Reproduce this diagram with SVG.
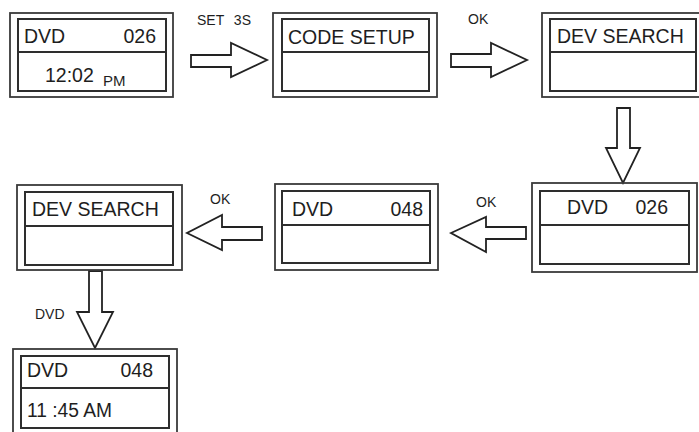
<svg xmlns="http://www.w3.org/2000/svg" width="699" height="432" viewBox="0 0 699 432">
<style>
.o{fill:none;stroke:#3a3a3a;stroke-width:1.8}
.i{fill:none;stroke:#2e2e2e;stroke-width:2}
.d{stroke:#2e2e2e;stroke-width:1.8}
.t{font-family:"Liberation Sans",Arial,sans-serif;font-size:19.5px;fill:#1e1e1e}
.s{font-family:"Liberation Sans",Arial,sans-serif;font-size:14px;fill:#1e1e1e}
.a{fill:#fff;stroke:#222;stroke-width:1.8;stroke-linejoin:miter}
</style>
<rect width="699" height="432" fill="#fff"/>
<g id="connectors">
<polygon class="a" points="191,55 231,55 231,43 267,60 231,77 231,67 191,67"/>
<polygon class="a" points="451,54 491,54 491,43 527,60 491,77 491,67 451,67"/>
<polygon class="a" points="617,108 630,108 630,148 640,148 623,183 606,148 617,148"/>
<polygon class="a" points="526,227 526,239 486,239 486,252 451,233 486,217 486,227"/>
<polygon class="a" points="262,227 262,240 222,240 222,250 187,233 222,215 222,227"/>
<polygon class="a" points="89,271 102,271 102,312 113,312 95,348 77,312 89,312"/>
<text class="s" x="197" y="25" word-spacing="6">SET 3S</text>
<text class="s" x="468" y="24">OK</text>
<text class="s" x="476" y="207">OK</text>
<text class="s" x="210" y="204">OK</text>
<text class="s" x="35" y="319">DVD</text>
</g>
<g id="n1">
<rect class="o" x="10" y="13" width="163" height="84"/>
<rect class="i" x="18" y="19" width="148" height="72"/>
<line class="d" x1="18" y1="52" x2="166" y2="52"/>
<text class="t" x="24" y="43">DVD</text>
<text class="t" x="156" y="43" text-anchor="end">026</text>
<text class="t" x="45" y="82">12:02</text>
<text class="t" x="103" y="86" style="font-size:15px">PM</text>
</g>
<g id="n2">
<rect class="o" x="273" y="13" width="164" height="84"/>
<rect class="i" x="282" y="19" width="147" height="72"/>
<line class="d" x1="282" y1="52" x2="429" y2="52"/>
<text class="t" x="288" y="44">CODE SETUP</text>
</g>
<g id="n3">
<rect class="o" x="542" y="13" width="162" height="84"/>
<rect class="i" x="550" y="19" width="146" height="72"/>
<line class="d" x1="550" y1="52" x2="696" y2="52"/>
<text class="t" x="557" y="43">DEV SEARCH</text>
</g>
<g id="n4">
<rect class="o" x="532" y="183" width="165" height="89"/>
<rect class="i" x="540" y="191" width="149" height="73"/>
<line class="d" x1="540" y1="225" x2="689" y2="225"/>
<text class="t" x="567" y="214">DVD</text>
<text class="t" x="668" y="214" text-anchor="end">026</text>
</g>
<g id="n5">
<rect class="o" x="275" y="184" width="163" height="86"/>
<rect class="i" x="282" y="191" width="148" height="72"/>
<line class="d" x1="282" y1="225" x2="430" y2="225"/>
<text class="t" x="292" y="216">DVD</text>
<text class="t" x="423" y="216" text-anchor="end">048</text>
</g>
<g id="n6">
<rect class="o" x="17" y="185" width="165" height="85"/>
<rect class="i" x="25" y="192" width="148" height="73"/>
<line class="d" x1="25" y1="226" x2="173" y2="226"/>
<text class="t" x="32" y="216">DEV SEARCH</text>
</g>
<g id="n7">
<rect class="o" x="13" y="349" width="164" height="88"/>
<rect class="i" x="21" y="356" width="148" height="72"/>
<line class="d" x1="21" y1="388" x2="169" y2="388"/>
<text class="t" x="27" y="377">DVD</text>
<text class="t" x="153" y="377" text-anchor="end">048</text>
<text class="t" x="27" y="417" textLength="85" lengthAdjust="spacingAndGlyphs">11 :45 AM</text>
</g>
</svg>
